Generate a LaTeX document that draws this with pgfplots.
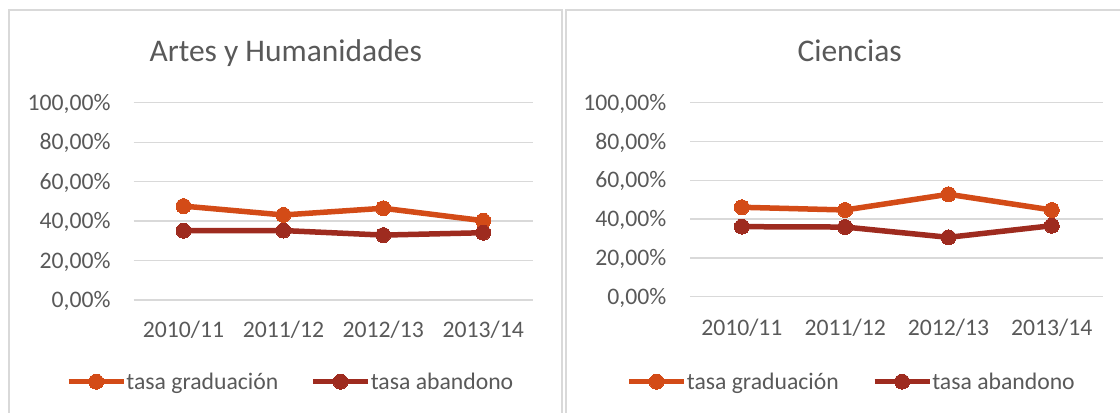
\documentclass[border=0pt]{standalone}
\usepackage{pgfplots}
\pgfplotsset{compat=1.18}
\usepackage{fontspec}
\setmainfont{Carlito}
\definecolor{grad}{HTML}{D34B17}
\definecolor{aban}{HTML}{9E2B1F}
\definecolor{gridc}{HTML}{D9D9D9}
\definecolor{txt}{HTML}{595959}
\newcommand\tickfont{\fontsize{23.7bp}{28bp}\selectfont}
\pgfplotsset{
  panel/.style={
    scale only axis,
    xmin=-0.5, xmax=3.5, ymin=0, ymax=1,
    xtick={0,1,2,3},
    xticklabels={2010/11,2011/12,2012/13,2013/14},
    ytick={0,0.2,0.4,0.6,0.8,1},
    yticklabels={{0,00\%},{20,00\%},{40,00\%},{60,00\%},{80,00\%},{100,00\%}},
    ymajorgrids,
    grid style={gridc, line width=1.3bp},
    axis line style={draw=none},
    major tick length=0pt,
    ticklabel style={font=\tickfont, text=txt, inner sep=0pt},
    yticklabel style={anchor=base east, yshift=-7.5bp},
    title style={font=\fontsize{31.5bp}{37bp}\selectfont, text=txt, anchor=base, inner sep=0pt, yshift=-6pt},
    legend columns=2,
    legend style={draw=none, fill=none, inner sep=0pt, anchor=west,
      font=\tickfont, text=txt,
      nodes={inner sep=0pt, font=\tickfont, text=txt},
      /tikz/every odd column/.append style={column sep=0bp}},
    legend image code/.code={\draw[mark repeat=2, mark phase=2, ##1] plot coordinates {(0bp,0bp) (27.5bp,0bp) (55bp,0bp)};},
  },
  gradst/.style={grad, line width=5.5bp, line join=round, mark=*, mark size=7.5bp, mark options={fill=grad, draw=grad, line width=0pt}},
  abanst/.style={aban, line width=5.5bp, line join=round, mark=*, mark size=7.5bp, mark options={fill=aban, draw=aban, line width=0pt}},
}
\begin{document}
\begin{tikzpicture}[x=1bp,y=1bp]
\useasboundingbox (0,0) rectangle (1120,412);
\begin{scope}
\clip (0,0) rectangle (1120,412);
\draw[gridc, line width=1.3bp] (9,402) rectangle (562,-10);
\draw[gridc, line width=1.3bp] (566,402) rectangle (1140,-10);
\end{scope}
\begin{axis}[panel,
  at={(133.6bp,112bp)}, anchor=south west,
  width=399.5bp, height=197.3bp,
  xticklabel style={anchor=base, yshift=-37bp},
  yticklabel style={xshift=-22.9bp},
  title={Artes y Humanidades},
  title style={at={(axis description cs:0.3807,1.2088)}},
  legend style={at={(axis description cs:-0.170,-0.414)},
    /tikz/every even column/.append style={column sep=32bp}},
]
\addplot[gradst] coordinates {(0,0.476) (1,0.431) (2,0.465) (3,0.402)};
\addlegendentry{tasa graduación}
\addplot[abanst] coordinates {(0,0.351) (1,0.352) (2,0.329) (3,0.341)};
\addlegendentry{tasa abandono}
\end{axis}
\begin{axis}[panel,
  at={(690.2bp,115.3bp)}, anchor=south west,
  width=413.2bp, height=194bp,
  xticklabel style={anchor=base, yshift=-38.3bp},
  yticklabel style={xshift=-23.8bp},
  title={Ciencias},
  title style={at={(axis description cs:0.3858,1.2124)}},
  legend style={at={(axis description cs:-0.155,-0.438)},
    /tikz/every even column/.append style={column sep=33bp}},
]
\addplot[gradst] coordinates {(0,0.461) (1,0.447) (2,0.528) (3,0.447)};
\addlegendentry{tasa graduación}
\addplot[abanst] coordinates {(0,0.361) (1,0.359) (2,0.306) (3,0.366)};
\addlegendentry{tasa abandono}
\end{axis}
\end{tikzpicture}
\end{document}
